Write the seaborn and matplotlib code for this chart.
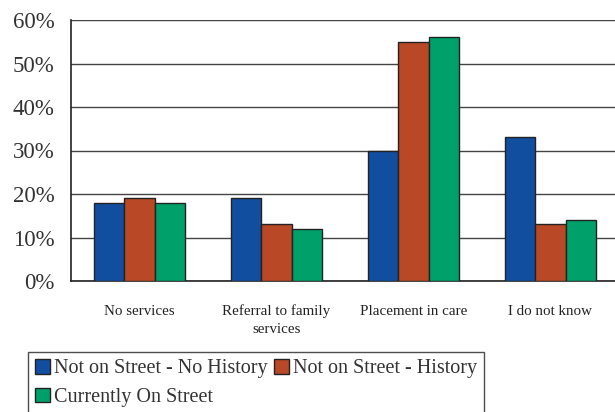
import pandas as pd
import matplotlib.pyplot as plt
import seaborn as sns

# dados do grafico
categorias = ['No services', 'Referral to family\nservices', 'Placement in care', 'I do not know']
grupos = ['Not on Street - No History', 'Not on Street - History', 'Currently On Street']
sem_historico = [18, 19, 30, 33]
com_historico = [19, 13, 55, 13]
na_rua = [18, 12, 56, 14]
ticks_y = [0, 10, 20, 30, 40, 50, 60]
cores = ['#124EA0', '#B84826', '#00A06A']

df = pd.DataFrame({
    'categoria': categorias * 3,
    'grupo': [g for g in grupos for _ in categorias],
    'valor': sem_historico + com_historico + na_rua,
})

sns.set_style("white")
plt.rcParams['font.family'] = ['Liberation Serif', 'DejaVu Serif']

fig = plt.figure(figsize=(6.15, 4.12), dpi=100)
ax = fig.add_axes([71 / 615, 1 - 281 / 412, 548 / 615, 261 / 412])

sns.barplot(data=df, x='categoria', y='valor', hue='grupo', hue_order=grupos,
            palette=cores, width=0.66, edgecolor='#222222', linewidth=1,
            saturation=1, ax=ax, legend=False, zorder=3)

ax.set_ylim(0, 60)
ax.set_xlim(-0.5, 3.5)
ax.set_yticks(ticks_y)
ax.set_yticklabels([f'{t}%' for t in ticks_y], fontsize=16.5, color='#333333')
ax.set_xticks(range(len(categorias)))
ax.set_xticklabels(categorias, fontsize=10.8, color='#222222', linespacing=1.5)
ax.set_xticks([i + 0.5 for i in range(-1, len(categorias))], minor=True)
ax.tick_params(axis='x', which='major', length=0, pad=17)
ax.tick_params(axis='x', which='minor', length=5, width=1, color='#333333', direction='out')
ax.tick_params(axis='y', length=8, width=1, color='#333333', direction='out', pad=4)
ax.yaxis.grid(True, color='#444444', linewidth=1, zorder=0)
ax.set_axisbelow(True)
ax.set_xlabel('')
ax.set_ylabel('')
for lado in ['top', 'right']:
    ax.spines[lado].set_visible(False)
for lado in ['left', 'bottom']:
    ax.spines[lado].set_color('#222222')
    ax.spines[lado].set_linewidth(1.2)

# legenda em linhas (ordem reorganizada)
alcas = [plt.Rectangle((0, 0), 1, 1, facecolor=c, edgecolor='#222222', linewidth=1) for c in cores]
ordem = [0, 2, 1]
leg = fig.legend([alcas[i] for i in ordem], [grupos[i] for i in ordem], ncol=2,
                 loc='upper left', bbox_to_anchor=(28 / 615, 1 - 352 / 412),
                 bbox_transform=fig.transFigure, fontsize=14.5, frameon=True,
                 fancybox=False, borderaxespad=0, handlelength=0.75, handleheight=0.75,
                 handletextpad=0.2, columnspacing=0.3, labelspacing=0.45,
                 borderpad=0.35)
leg.get_frame().set_edgecolor('#222222')
leg.get_frame().set_linewidth(1)
for t in leg.get_texts():
    t.set_color('#333333')

fig.savefig('out.png', dpi=100)
